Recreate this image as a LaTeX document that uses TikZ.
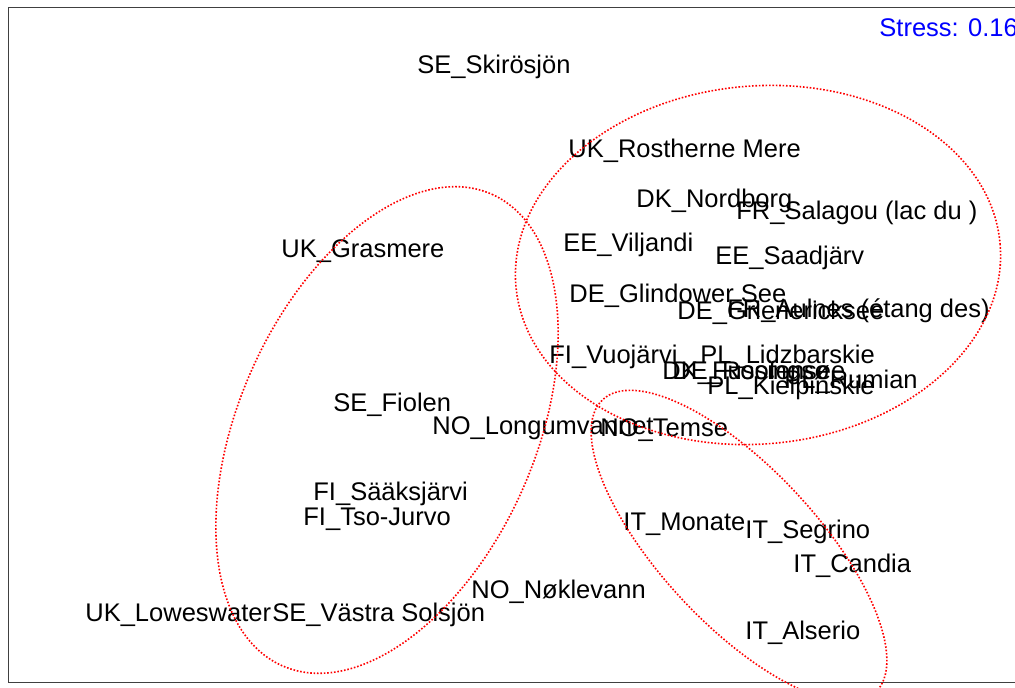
\documentclass[tikz,border=0pt]{standalone}
\usepackage{fontspec}
\setmainfont{Liberation Sans}

\begin{document}
\begin{tikzpicture}[
x=0.5pt, y=-0.5pt,
site/.style={
	anchor=base west, inner sep=0pt,
	font=\fontsize{12.75}{15}\selectfont
},
group/.style={red, line width=0.8pt, dash pattern=on 0.8pt off 0.9pt},
frame/.style={black!75, line width=0.8pt}
]
\useasboundingbox (0,0) rectangle (1015,688);
\clip (0,0) rectangle (1015,688);
\draw[frame] (8.5,7.5) rectangle (1040,682.5);
% sites
\node[site] (skirosjon) at (417,74) {SE\_Skirösjön};
\node[site] (rostherne) at (568,158) {UK\_Rostherne Mere};
\node[site] (nordborg) at (636,208) {DK\_Nordborg};
\node[site] (salagou) at (736,220) {FR\_Salagou (lac du )};
\node[site] (viljandi) at (563,252) {EE\_Viljandi};
\node[site] (saadjarv) at (715,265) {EE\_Saadjärv};
\node[site] (grasmere) at (281,258) {UK\_Grasmere};
\node[site] (glindower) at (569,303) {DE\_Glindower See};
\node[site] (grienericksee) at (677,320) {DE\_Grienericksee};
\node[site] (aulnes) at (727,318) {FR\_Aulnes (étang des)};
\node[site] (vuojarvi) at (549,364) {FI\_Vuojärvi};
\node[site] (lidzbarskie) at (700,364) {PL\_Lidzbarskie};
\node[site] (fussingso) at (662,380) {DK\_Fussingsø};
\node[site] (roofensee) at (672,380) {DE\_Roofensee};
\node[site] (rumian) at (784,389) {PL\_Rumian};
\node[site] (kielpinskie) at (707,395) {PL\_Kielpinskie};
\node[site] (fiolen) at (333,412) {SE\_Fiolen};
\node[site] (longumvannet) at (432,435) {NO\_Longumvannet};
\node[site] (temse) at (600,437) {NO\_Temse};
\node[site] (saaksjarvi) at (313,501) {FI\_Sääksjärvi};
\node[site] (tsojurvo) at (303,525) {FI\_Tso-Jurvo};
\node[site] (monate) at (623,530) {IT\_Monate};
\node[site] (segrino) at (745,538) {IT\_Segrino};
\node[site] (candia) at (793,572) {IT\_Candia};
\node[site] (noklevann) at (471,598) {NO\_Nøklevann};
\node[site] (alserio) at (745,639) {IT\_Alserio};
\node[site] (loweswater) at (85,621) {UK\_Loweswater};
\node[site] (vastra) at (272,621) {SE\_Västra Solsjön};
\node[site, text=blue] (stress) at (879,37) {Stress: 0.16};
% groups
\draw[group, rotate around={66:(387,430)}] (387,430) ellipse [x radius=258, y radius=148];
\draw[group, rotate around={5:(758,265)}] (758,265) ellipse [x radius=243, y radius=179];
\draw[group, rotate around={-47:(739,546)}] (739,546) ellipse [x radius=200, y radius=78];
\end{tikzpicture}
\end{document}
